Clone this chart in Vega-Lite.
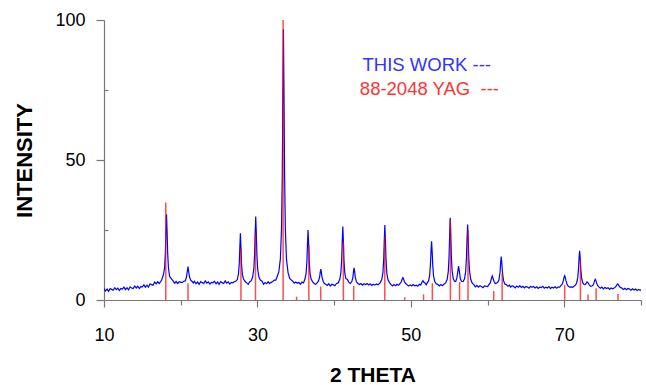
{
  "$schema": "https://vega.github.io/schema/vega-lite/v6.json",
  "width": 537,
  "height": 280,
  "autosize": {"type": "none"},
  "padding": {"left": 104, "top": 20, "right": 5, "bottom": 85},
  "background": "white",
  "config": {
    "view": {"stroke": null},
    "font": "Liberation Sans",
    "axis": {"grid": false}
  },
  "datasets": {
    "scan": [
      {"theta": 10.0, "intensity": 4.1}, {"theta": 10.2, "intensity": 3.2}, {"theta": 10.4, "intensity": 3.9}, {"theta": 10.6, "intensity": 3.1},
      {"theta": 10.8, "intensity": 4.1}, {"theta": 11.0, "intensity": 3.8}, {"theta": 11.2, "intensity": 3.5}, {"theta": 11.4, "intensity": 4.4},
      {"theta": 11.6, "intensity": 3.7}, {"theta": 11.8, "intensity": 4.2}, {"theta": 12.0, "intensity": 3.4}, {"theta": 12.2, "intensity": 4.1},
      {"theta": 12.4, "intensity": 3.9}, {"theta": 12.6, "intensity": 4.6}, {"theta": 12.8, "intensity": 3.7}, {"theta": 13.0, "intensity": 4.4},
      {"theta": 13.2, "intensity": 3.6}, {"theta": 13.4, "intensity": 4.7}, {"theta": 13.6, "intensity": 4.3}, {"theta": 13.8, "intensity": 4.1},
      {"theta": 14.0, "intensity": 5.0}, {"theta": 14.2, "intensity": 4.3}, {"theta": 14.4, "intensity": 4.9}, {"theta": 14.6, "intensity": 4.1},
      {"theta": 14.8, "intensity": 4.8}, {"theta": 15.0, "intensity": 4.7}, {"theta": 15.2, "intensity": 5.4}, {"theta": 15.4, "intensity": 4.6},
      {"theta": 15.6, "intensity": 5.3}, {"theta": 15.8, "intensity": 4.6}, {"theta": 16.0, "intensity": 5.7}, {"theta": 16.2, "intensity": 5.5},
      {"theta": 16.4, "intensity": 5.3}, {"theta": 16.6, "intensity": 6.4}, {"theta": 16.8, "intensity": 5.8}, {"theta": 17.0, "intensity": 6.5},
      {"theta": 17.2, "intensity": 5.9}, {"theta": 17.4, "intensity": 6.6}, {"theta": 17.55, "intensity": 7.4}, {"theta": 17.75, "intensity": 9.1},
      {"theta": 17.9, "intensity": 11.6}, {"theta": 18.0, "intensity": 16.9}, {"theta": 18.07, "intensity": 24.0}, {"theta": 18.15, "intensity": 30.6},
      {"theta": 18.23, "intensity": 23.9}, {"theta": 18.3, "intensity": 16.8}, {"theta": 18.4, "intensity": 11.5}, {"theta": 18.55, "intensity": 8.4},
      {"theta": 18.75, "intensity": 7.7}, {"theta": 19.0, "intensity": 6.8}, {"theta": 19.2, "intensity": 6.0}, {"theta": 19.4, "intensity": 6.6},
      {"theta": 19.6, "intensity": 5.9}, {"theta": 19.8, "intensity": 6.5}, {"theta": 20.0, "intensity": 6.3}, {"theta": 20.2, "intensity": 6.3},
      {"theta": 20.4, "intensity": 6.7}, {"theta": 20.6, "intensity": 6.8}, {"theta": 20.75, "intensity": 8.2}, {"theta": 20.85, "intensity": 10.1},
      {"theta": 20.95, "intensity": 11.9}, {"theta": 21.05, "intensity": 9.9}, {"theta": 21.15, "intensity": 8.2}, {"theta": 21.3, "intensity": 7.1},
      {"theta": 21.5, "intensity": 6.6}, {"theta": 21.65, "intensity": 6.1}, {"theta": 21.8, "intensity": 6.7}, {"theta": 22.0, "intensity": 5.8},
      {"theta": 22.2, "intensity": 6.4}, {"theta": 22.4, "intensity": 5.6}, {"theta": 22.6, "intensity": 6.6}, {"theta": 22.8, "intensity": 6.2},
      {"theta": 23.0, "intensity": 5.9}, {"theta": 23.2, "intensity": 6.8}, {"theta": 23.4, "intensity": 6.0}, {"theta": 23.6, "intensity": 6.5},
      {"theta": 23.8, "intensity": 5.7}, {"theta": 24.0, "intensity": 6.3}, {"theta": 24.2, "intensity": 6.1}, {"theta": 24.4, "intensity": 6.7},
      {"theta": 24.6, "intensity": 5.8}, {"theta": 24.8, "intensity": 6.4}, {"theta": 25.0, "intensity": 5.6}, {"theta": 25.2, "intensity": 6.6},
      {"theta": 25.4, "intensity": 6.2}, {"theta": 25.6, "intensity": 5.9}, {"theta": 25.8, "intensity": 6.8}, {"theta": 26.0, "intensity": 6.0},
      {"theta": 26.2, "intensity": 6.5}, {"theta": 26.4, "intensity": 5.7}, {"theta": 26.6, "intensity": 6.3}, {"theta": 26.8, "intensity": 6.1},
      {"theta": 27.0, "intensity": 6.6}, {"theta": 27.18, "intensity": 6.7}, {"theta": 27.38, "intensity": 7.3}, {"theta": 27.53, "intensity": 9.3},
      {"theta": 27.63, "intensity": 12.9}, {"theta": 27.7, "intensity": 18.3}, {"theta": 27.78, "intensity": 23.8}, {"theta": 27.86, "intensity": 18.3},
      {"theta": 27.93, "intensity": 12.9}, {"theta": 28.03, "intensity": 9.3}, {"theta": 28.18, "intensity": 7.5}, {"theta": 28.38, "intensity": 6.7},
      {"theta": 28.6, "intensity": 6.1}, {"theta": 28.8, "intensity": 5.6}, {"theta": 29.0, "intensity": 6.5}, {"theta": 29.18, "intensity": 6.8},
      {"theta": 29.38, "intensity": 8.3}, {"theta": 29.53, "intensity": 11.1}, {"theta": 29.63, "intensity": 16.2}, {"theta": 29.7, "intensity": 23.3},
      {"theta": 29.78, "intensity": 29.8}, {"theta": 29.86, "intensity": 23.3}, {"theta": 29.93, "intensity": 16.2}, {"theta": 30.03, "intensity": 11.1},
      {"theta": 30.18, "intensity": 8.3}, {"theta": 30.38, "intensity": 7.1}, {"theta": 30.6, "intensity": 6.7}, {"theta": 30.8, "intensity": 5.6},
      {"theta": 31.0, "intensity": 6.2}, {"theta": 31.2, "intensity": 5.8}, {"theta": 31.4, "intensity": 6.5}, {"theta": 31.6, "intensity": 5.9},
      {"theta": 31.8, "intensity": 6.3}, {"theta": 32.0, "intensity": 6.6}, {"theta": 32.2, "intensity": 7.1}, {"theta": 32.4, "intensity": 7.1},
      {"theta": 32.6, "intensity": 8.6}, {"theta": 32.79, "intensity": 10.1}, {"theta": 32.99, "intensity": 14.7}, {"theta": 33.14, "intensity": 25.3},
      {"theta": 33.24, "intensity": 45.0}, {"theta": 33.31, "intensity": 71.8}, {"theta": 33.39, "intensity": 96.7}, {"theta": 33.47, "intensity": 71.6},
      {"theta": 33.54, "intensity": 44.8}, {"theta": 33.64, "intensity": 25.0}, {"theta": 33.79, "intensity": 14.4}, {"theta": 33.99, "intensity": 9.8},
      {"theta": 34.2, "intensity": 7.7}, {"theta": 34.4, "intensity": 7.2}, {"theta": 34.6, "intensity": 6.7}, {"theta": 34.8, "intensity": 6.0},
      {"theta": 35.0, "intensity": 6.4}, {"theta": 35.2, "intensity": 6.0}, {"theta": 35.4, "intensity": 6.3}, {"theta": 35.6, "intensity": 5.6},
      {"theta": 35.8, "intensity": 6.4}, {"theta": 36.0, "intensity": 6.1}, {"theta": 36.2, "intensity": 7.5}, {"theta": 36.35, "intensity": 9.7},
      {"theta": 36.45, "intensity": 13.9}, {"theta": 36.52, "intensity": 19.7}, {"theta": 36.6, "intensity": 25.0}, {"theta": 36.68, "intensity": 19.7},
      {"theta": 36.75, "intensity": 13.9}, {"theta": 36.85, "intensity": 9.7}, {"theta": 37.0, "intensity": 7.5}, {"theta": 37.2, "intensity": 6.5},
      {"theta": 37.4, "intensity": 5.9}, {"theta": 37.6, "intensity": 5.6}, {"theta": 37.8, "intensity": 6.2}, {"theta": 37.95, "intensity": 6.7},
      {"theta": 38.1, "intensity": 8.1}, {"theta": 38.18, "intensity": 9.8}, {"theta": 38.26, "intensity": 11.0}, {"theta": 38.34, "intensity": 9.8},
      {"theta": 38.42, "intensity": 8.1}, {"theta": 38.57, "intensity": 6.7}, {"theta": 38.72, "intensity": 5.9}, {"theta": 38.9, "intensity": 5.6},
      {"theta": 39.1, "intensity": 5.2}, {"theta": 39.3, "intensity": 5.8}, {"theta": 39.5, "intensity": 5.0}, {"theta": 39.7, "intensity": 5.6},
      {"theta": 39.9, "intensity": 5.4}, {"theta": 40.1, "intensity": 5.1}, {"theta": 40.3, "intensity": 5.9}, {"theta": 40.53, "intensity": 6.1},
      {"theta": 40.73, "intensity": 7.4}, {"theta": 40.88, "intensity": 9.8}, {"theta": 40.98, "intensity": 14.3}, {"theta": 41.05, "intensity": 20.5},
      {"theta": 41.13, "intensity": 26.2}, {"theta": 41.21, "intensity": 20.5}, {"theta": 41.28, "intensity": 14.3}, {"theta": 41.38, "intensity": 9.8},
      {"theta": 41.53, "intensity": 7.6}, {"theta": 41.73, "intensity": 7.3}, {"theta": 41.9, "intensity": 6.4}, {"theta": 42.1, "intensity": 5.9},
      {"theta": 42.3, "intensity": 6.5}, {"theta": 42.45, "intensity": 8.2}, {"theta": 42.53, "intensity": 10.3}, {"theta": 42.6, "intensity": 11.5},
      {"theta": 42.67, "intensity": 10.3}, {"theta": 42.75, "intensity": 8.2}, {"theta": 42.9, "intensity": 6.5}, {"theta": 43.1, "intensity": 5.9},
      {"theta": 43.3, "intensity": 5.5}, {"theta": 43.5, "intensity": 5.9}, {"theta": 43.7, "intensity": 5.3}, {"theta": 43.9, "intensity": 5.8},
      {"theta": 44.1, "intensity": 5.5}, {"theta": 44.3, "intensity": 5.9}, {"theta": 44.5, "intensity": 5.4}, {"theta": 44.7, "intensity": 5.8},
      {"theta": 44.9, "intensity": 5.2}, {"theta": 45.1, "intensity": 5.6}, {"theta": 45.3, "intensity": 5.3}, {"theta": 45.5, "intensity": 5.7},
      {"theta": 45.7, "intensity": 5.4}, {"theta": 45.9, "intensity": 5.9}, {"theta": 46.01, "intensity": 6.2}, {"theta": 46.21, "intensity": 7.3},
      {"theta": 46.36, "intensity": 9.8}, {"theta": 46.46, "intensity": 14.5}, {"theta": 46.53, "intensity": 20.9}, {"theta": 46.61, "intensity": 26.8},
      {"theta": 46.69, "intensity": 20.9}, {"theta": 46.76, "intensity": 14.5}, {"theta": 46.86, "intensity": 9.8}, {"theta": 47.01, "intensity": 7.3},
      {"theta": 47.21, "intensity": 6.2}, {"theta": 47.4, "intensity": 5.6}, {"theta": 47.6, "intensity": 5.0}, {"theta": 47.8, "intensity": 5.5},
      {"theta": 48.0, "intensity": 5.1}, {"theta": 48.2, "intensity": 5.6}, {"theta": 48.4, "intensity": 5.3}, {"theta": 48.6, "intensity": 5.9},
      {"theta": 48.75, "intensity": 6.5}, {"theta": 48.86, "intensity": 7.4}, {"theta": 48.96, "intensity": 8.0}, {"theta": 49.06, "intensity": 7.4},
      {"theta": 49.17, "intensity": 6.5}, {"theta": 49.32, "intensity": 5.9}, {"theta": 49.5, "intensity": 5.5}, {"theta": 49.7, "intensity": 5.0},
      {"theta": 49.9, "intensity": 5.4}, {"theta": 50.1, "intensity": 5.0}, {"theta": 50.3, "intensity": 5.5}, {"theta": 50.5, "intensity": 5.1},
      {"theta": 50.7, "intensity": 5.3}, {"theta": 50.9, "intensity": 4.9}, {"theta": 51.1, "intensity": 5.6}, {"theta": 51.3, "intensity": 5.4},
      {"theta": 51.45, "intensity": 6.4}, {"theta": 51.57, "intensity": 6.9}, {"theta": 51.7, "intensity": 6.3}, {"theta": 51.85, "intensity": 6.1},
      {"theta": 52.0, "intensity": 5.4}, {"theta": 52.15, "intensity": 6.2}, {"theta": 52.3, "intensity": 6.7}, {"theta": 52.45, "intensity": 8.8},
      {"theta": 52.55, "intensity": 12.5}, {"theta": 52.62, "intensity": 17.1}, {"theta": 52.7, "intensity": 21.0}, {"theta": 52.78, "intensity": 17.1},
      {"theta": 52.85, "intensity": 12.5}, {"theta": 52.95, "intensity": 8.8}, {"theta": 53.1, "intensity": 6.7}, {"theta": 53.3, "intensity": 5.8},
      {"theta": 53.5, "intensity": 5.6}, {"theta": 53.7, "intensity": 5.0}, {"theta": 53.9, "intensity": 5.5}, {"theta": 54.1, "intensity": 5.1},
      {"theta": 54.3, "intensity": 5.6}, {"theta": 54.53, "intensity": 6.1}, {"theta": 54.73, "intensity": 7.3}, {"theta": 54.88, "intensity": 10.2},
      {"theta": 54.98, "intensity": 15.5}, {"theta": 55.05, "intensity": 22.7}, {"theta": 55.13, "intensity": 29.4}, {"theta": 55.21, "intensity": 22.8},
      {"theta": 55.28, "intensity": 15.6}, {"theta": 55.38, "intensity": 10.4}, {"theta": 55.53, "intensity": 7.6}, {"theta": 55.7, "intensity": 6.7},
      {"theta": 55.85, "intensity": 6.6}, {"theta": 56.0, "intensity": 7.9}, {"theta": 56.1, "intensity": 9.8}, {"theta": 56.22, "intensity": 12.1},
      {"theta": 56.32, "intensity": 10.3}, {"theta": 56.45, "intensity": 7.6}, {"theta": 56.6, "intensity": 6.7}, {"theta": 56.8, "intensity": 6.6},
      {"theta": 57.0, "intensity": 7.6}, {"theta": 57.15, "intensity": 10.3}, {"theta": 57.25, "intensity": 15.3}, {"theta": 57.32, "intensity": 21.6},
      {"theta": 57.4, "intensity": 27.0}, {"theta": 57.48, "intensity": 21.6}, {"theta": 57.55, "intensity": 15.3}, {"theta": 57.65, "intensity": 10.3},
      {"theta": 57.8, "intensity": 7.4}, {"theta": 58.0, "intensity": 6.0}, {"theta": 58.2, "intensity": 5.5}, {"theta": 58.4, "intensity": 4.7},
      {"theta": 58.6, "intensity": 5.2}, {"theta": 58.8, "intensity": 4.6}, {"theta": 59.0, "intensity": 5.1}, {"theta": 59.2, "intensity": 4.8},
      {"theta": 59.4, "intensity": 4.4}, {"theta": 59.6, "intensity": 5.0}, {"theta": 59.8, "intensity": 4.9}, {"theta": 60.0, "intensity": 4.8},
      {"theta": 60.2, "intensity": 5.6}, {"theta": 60.35, "intensity": 6.1}, {"theta": 60.48, "intensity": 7.4}, {"theta": 60.61, "intensity": 8.6},
      {"theta": 60.73, "intensity": 7.6}, {"theta": 60.85, "intensity": 6.6}, {"theta": 61.0, "intensity": 5.9}, {"theta": 61.15, "intensity": 6.0},
      {"theta": 61.3, "intensity": 6.2}, {"theta": 61.48, "intensity": 7.1}, {"theta": 61.63, "intensity": 10.1}, {"theta": 61.7, "intensity": 13.1},
      {"theta": 61.78, "intensity": 15.5}, {"theta": 61.86, "intensity": 13.1}, {"theta": 61.93, "intensity": 10.1}, {"theta": 62.08, "intensity": 6.9},
      {"theta": 62.25, "intensity": 5.7}, {"theta": 62.45, "intensity": 5.5}, {"theta": 62.65, "intensity": 4.9}, {"theta": 62.85, "intensity": 5.3},
      {"theta": 63.0, "intensity": 4.6}, {"theta": 63.2, "intensity": 5.1}, {"theta": 63.4, "intensity": 4.8}, {"theta": 63.6, "intensity": 4.3},
      {"theta": 63.8, "intensity": 5.0}, {"theta": 64.0, "intensity": 4.6}, {"theta": 64.2, "intensity": 5.1}, {"theta": 64.4, "intensity": 4.5},
      {"theta": 64.6, "intensity": 4.9}, {"theta": 64.8, "intensity": 4.3}, {"theta": 65.0, "intensity": 4.8}, {"theta": 65.2, "intensity": 4.6},
      {"theta": 65.4, "intensity": 4.2}, {"theta": 65.6, "intensity": 4.9}, {"theta": 65.8, "intensity": 4.5}, {"theta": 66.0, "intensity": 4.8},
      {"theta": 66.2, "intensity": 4.3}, {"theta": 66.4, "intensity": 4.7}, {"theta": 66.6, "intensity": 4.1}, {"theta": 66.8, "intensity": 4.6},
      {"theta": 67.0, "intensity": 4.4}, {"theta": 67.2, "intensity": 4.9}, {"theta": 67.4, "intensity": 4.2}, {"theta": 67.6, "intensity": 4.6},
      {"theta": 67.8, "intensity": 4.3}, {"theta": 68.0, "intensity": 4.8}, {"theta": 68.2, "intensity": 4.1}, {"theta": 68.4, "intensity": 4.6},
      {"theta": 68.6, "intensity": 4.3}, {"theta": 68.8, "intensity": 4.7}, {"theta": 69.0, "intensity": 4.2}, {"theta": 69.2, "intensity": 4.6},
      {"theta": 69.4, "intensity": 4.6}, {"theta": 69.6, "intensity": 5.3}, {"theta": 69.75, "intensity": 5.7}, {"theta": 69.9, "intensity": 7.2},
      {"theta": 69.98, "intensity": 8.2}, {"theta": 70.05, "intensity": 8.7}, {"theta": 70.13, "intensity": 8.1}, {"theta": 70.22, "intensity": 6.9},
      {"theta": 70.35, "intensity": 5.7}, {"theta": 70.5, "intensity": 5.0}, {"theta": 70.7, "intensity": 4.6}, {"theta": 70.9, "intensity": 4.7},
      {"theta": 71.1, "intensity": 4.5}, {"theta": 71.3, "intensity": 5.0}, {"theta": 71.45, "intensity": 5.3}, {"theta": 71.6, "intensity": 6.0},
      {"theta": 71.75, "intensity": 7.9}, {"theta": 71.85, "intensity": 11.0}, {"theta": 71.93, "intensity": 15.2}, {"theta": 72.0, "intensity": 17.6},
      {"theta": 72.07, "intensity": 15.2}, {"theta": 72.15, "intensity": 11.0}, {"theta": 72.25, "intensity": 7.9}, {"theta": 72.4, "intensity": 6.2},
      {"theta": 72.55, "intensity": 5.6}, {"theta": 72.7, "intensity": 5.5}, {"theta": 72.85, "intensity": 5.9}, {"theta": 72.95, "intensity": 6.4},
      {"theta": 73.05, "intensity": 6.3}, {"theta": 73.15, "intensity": 5.9}, {"theta": 73.3, "intensity": 5.2}, {"theta": 73.45, "intensity": 4.9},
      {"theta": 73.6, "intensity": 5.0}, {"theta": 73.75, "intensity": 5.3}, {"theta": 73.88, "intensity": 6.2}, {"theta": 73.96, "intensity": 7.0},
      {"theta": 74.04, "intensity": 7.4}, {"theta": 74.12, "intensity": 7.0}, {"theta": 74.2, "intensity": 6.2}, {"theta": 74.33, "intensity": 5.2},
      {"theta": 74.5, "intensity": 4.7}, {"theta": 74.7, "intensity": 4.2}, {"theta": 74.9, "intensity": 4.6}, {"theta": 75.1, "intensity": 4.0},
      {"theta": 75.3, "intensity": 4.5}, {"theta": 75.5, "intensity": 4.1}, {"theta": 75.7, "intensity": 4.4}, {"theta": 75.9, "intensity": 3.8},
      {"theta": 76.1, "intensity": 4.3}, {"theta": 76.3, "intensity": 4.0}, {"theta": 76.5, "intensity": 4.3}, {"theta": 76.65, "intensity": 4.6},
      {"theta": 76.8, "intensity": 5.1}, {"theta": 76.9, "intensity": 5.6}, {"theta": 76.97, "intensity": 5.7}, {"theta": 77.05, "intensity": 5.5},
      {"theta": 77.15, "intensity": 5.0}, {"theta": 77.3, "intensity": 4.5}, {"theta": 77.5, "intensity": 4.3}, {"theta": 77.7, "intensity": 3.8},
      {"theta": 77.9, "intensity": 4.2}, {"theta": 78.1, "intensity": 3.7}, {"theta": 78.3, "intensity": 4.1}, {"theta": 78.5, "intensity": 3.9},
      {"theta": 78.7, "intensity": 3.5}, {"theta": 78.9, "intensity": 4.0}, {"theta": 79.1, "intensity": 3.6}, {"theta": 79.3, "intensity": 3.9},
      {"theta": 79.5, "intensity": 3.4}, {"theta": 79.7, "intensity": 3.8}, {"theta": 79.9, "intensity": 3.5}, {"theta": 80.0, "intensity": 3.7}
    ],
    "reference": [
      {"theta": 18.05, "intensity": 34.8}, {"theta": 20.95, "intensity": 6.0}, {"theta": 27.85, "intensity": 18.5},
      {"theta": 29.75, "intensity": 24.0}, {"theta": 33.35, "intensity": 100}, {"theta": 35.1, "intensity": 1.2},
      {"theta": 36.7, "intensity": 19.6}, {"theta": 38.25, "intensity": 4.8}, {"theta": 41.2, "intensity": 20.8},
      {"theta": 42.55, "intensity": 5.0}, {"theta": 46.6, "intensity": 22.6}, {"theta": 49.2, "intensity": 1.0},
      {"theta": 51.65, "intensity": 2.0}, {"theta": 52.8, "intensity": 6.0}, {"theta": 55.15, "intensity": 28.6},
      {"theta": 56.35, "intensity": 6.5}, {"theta": 57.45, "intensity": 25.0}, {"theta": 60.8, "intensity": 3.2},
      {"theta": 61.9, "intensity": 9.5}, {"theta": 70.05, "intensity": 5.4}, {"theta": 72.1, "intensity": 14.3},
      {"theta": 73.1, "intensity": 2.0}, {"theta": 74.15, "intensity": 4.2}, {"theta": 77.0, "intensity": 2.1}
    ],
    "labels": [
      {"label": "THIS WORK ---", "theta": 43.7, "intensity": 81.9, "series": "scan"},
      {"label": "88-2048 YAG\u00a0 ---", "theta": 43.35, "intensity": 73.2, "series": "reference"}
    ]
  },
  "layer": [
    {
      "data": {"name": "scan"},
      "mark": {"type": "line", "color": "#0000ff", "strokeWidth": 1.2, "clip": true},
      "encoding": {
        "x": {
          "field": "theta", "type": "quantitative",
          "scale": {"domain": [10, 80], "nice": false, "zero": false},
          "axis": {
            "values": [10, 20, 30, 40, 50, 60, 70, 80],
            "labelExpr": "datum.value % 20 == 10 ? datum.label : ''",
            "tickSize": {"condition": {"test": "datum.value % 20 == 10", "value": 7}, "value": 5},
            "tickColor": "#777777", "domainColor": "#777777", "tickWidth": 1.2, "domainWidth": 1.2,
            "labelFontSize": 18, "labelColor": "#000000", "labelPadding": 19,
            "labelFlush": false, "labelOverlap": false, "labelBound": false,
            "title": "2 THETA", "titleFontSize": 21, "titleFontWeight": "bold", "titleColor": "#000000",
            "titlePadding": 20
          }
        },
        "y": {
          "field": "intensity", "type": "quantitative",
          "scale": {"domain": [0, 100], "nice": false},
          "axis": {
            "values": [0, 25, 50, 75, 100],
            "labelExpr": "datum.value % 50 == 0 ? datum.label : ''",
            "tickSize": {"condition": {"test": "datum.value % 50 == 0", "value": 8}, "value": -4},
            "tickColor": "#777777", "domainColor": "#777777", "tickWidth": 1.2, "domainWidth": 1.2,
            "labelFontSize": 18, "labelColor": "#000000", "labelPadding": 11,
            "labelFlush": false, "labelOverlap": false, "labelBound": false,
            "title": "INTENSITY", "titleFontSize": 22, "titleFontWeight": "bold", "titleColor": "#000000",
            "titlePadding": 18
          }
        }
      }
    },
    {
      "data": {"name": "reference"},
      "mark": {"type": "rule", "color": "#ff0000", "opacity": 0.7, "strokeWidth": 1.5},
      "encoding": {
        "x": {"field": "theta", "type": "quantitative"},
        "y": {"field": "intensity", "type": "quantitative"},
        "y2": {"datum": 0}
      }
    },
    {
      "data": {"name": "labels"},
      "mark": {"type": "text", "align": "left", "baseline": "alphabetic", "fontSize": 18.5},
      "encoding": {
        "x": {"field": "theta", "type": "quantitative"},
        "y": {"field": "intensity", "type": "quantitative"},
        "text": {"field": "label"},
        "color": {
          "field": "series", "type": "nominal",
          "scale": {"domain": ["scan", "reference"], "range": ["#3333ff", "#ff3333"]},
          "legend": null
        }
      }
    }
  ]
}
